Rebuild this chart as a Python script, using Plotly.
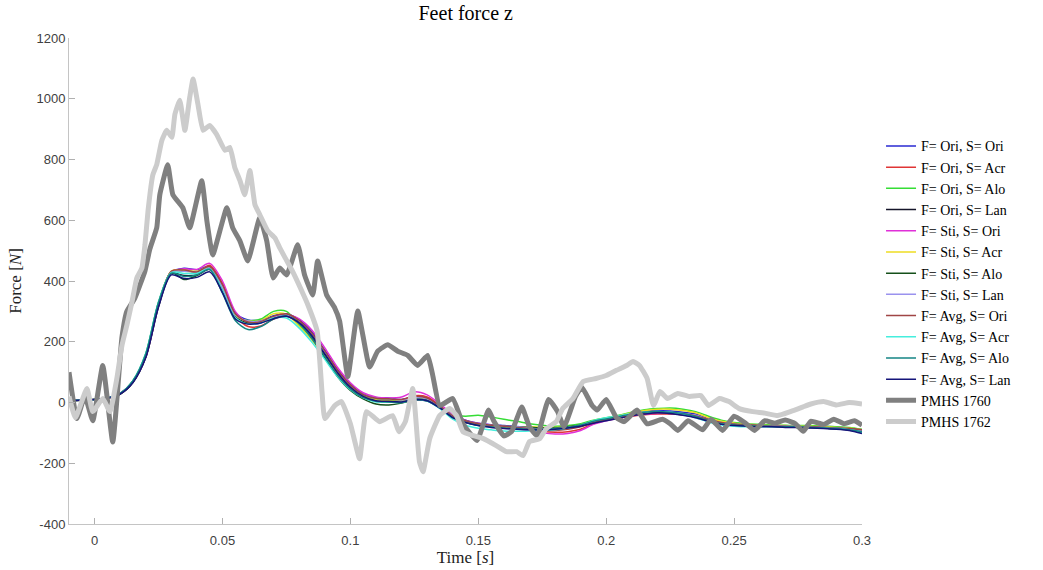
import plotly.graph_objects as go

# ---------------- data ----------------
T_SIM = [-0.010, -0.005, 0.000, 0.005, 0.010, 0.015, 0.020, 0.025, 0.030, 0.035,
         0.040, 0.045, 0.050, 0.055, 0.060, 0.065, 0.070, 0.075, 0.080, 0.085,
         0.090, 0.095, 0.100, 0.105, 0.110, 0.115, 0.120, 0.125, 0.130, 0.135,
         0.140, 0.145, 0.150, 0.155, 0.160, 0.165, 0.170, 0.175, 0.180, 0.185,
         0.190, 0.195, 0.200, 0.205, 0.210, 0.215, 0.220, 0.225, 0.230, 0.235,
         0.240, 0.245, 0.250, 0.255, 0.260, 0.265, 0.270, 0.275, 0.280, 0.285,
         0.290, 0.295, 0.300]

F_ORI_S_ORI = [5, 8, 10, 15, 30, 70, 155, 325, 428, 442, 437, 448, 385, 295, 272, 272, 286, 292, 272, 232, 172, 108, 60, 28, 16, 15, 10, 18, 14, -12, -42, -58, -68, -73, -76, -79, -82, -86, -84, -80, -74, -62, -55, -50, -38, -30, -26, -28, -32, -38, -55, -68, -73, -76, -77, -77, -77, -78, -78, -79, -80, -86, -96]
F_ORI_S_ACR = [5, 8, 10, 14, 28, 68, 150, 320, 432, 438, 428, 452, 392, 285, 250, 252, 275, 285, 265, 222, 162, 100, 55, 25, 12, 10, 8, 22, 18, -10, -45, -62, -70, -75, -78, -82, -88, -95, -98, -96, -88, -70, -58, -52, -45, -40, -38, -38, -40, -45, -58, -68, -72, -74, -76, -78, -80, -80, -82, -84, -86, -88, -90]
F_ORI_S_ALO = [5, 8, 10, 15, 30, 72, 160, 330, 430, 432, 430, 445, 375, 285, 270, 275, 300, 300, 255, 210, 155, 95, 50, 22, 10, 8, 5, 15, 12, -15, -40, -45, -42, -48, -55, -62, -70, -75, -78, -76, -70, -58, -50, -42, -32, -24, -20, -18, -22, -30, -45, -58, -66, -70, -72, -74, -75, -76, -76, -78, -80, -82, -88]
F_ORI_S_LAN = [5, 8, 10, 14, 28, 66, 148, 315, 425, 418, 420, 438, 370, 282, 262, 265, 280, 288, 262, 218, 158, 96, 50, 20, 5, 2, 0, 8, 5, -18, -50, -65, -75, -80, -84, -86, -88, -90, -88, -84, -78, -66, -58, -50, -42, -36, -34, -36, -40, -48, -60, -70, -74, -76, -78, -79, -80, -82, -82, -84, -86, -90, -100]
F_STI_S_ORI = [5, 8, 10, 15, 30, 70, 152, 322, 430, 440, 438, 458, 400, 300, 262, 262, 282, 290, 275, 238, 180, 115, 65, 32, 18, 15, 18, 35, 25, -5, -38, -58, -68, -74, -78, -84, -92, -100, -104, -102, -92, -72, -60, -52, -44, -38, -36, -36, -40, -46, -58, -68, -72, -74, -76, -78, -80, -80, -82, -84, -86, -88, -92]
F_STI_S_ACR = [5, 8, 10, 15, 30, 70, 158, 328, 432, 435, 432, 446, 378, 288, 268, 270, 292, 290, 250, 205, 150, 92, 48, 20, 8, 6, 4, 14, 10, -16, -45, -62, -74, -78, -80, -80, -80, -82, -82, -80, -74, -62, -52, -44, -34, -26, -22, -22, -26, -34, -50, -62, -68, -72, -74, -76, -76, -78, -78, -80, -82, -84, -90]
F_STI_S_ALO = [5, 8, 10, 14, 28, 68, 155, 325, 428, 405, 418, 440, 368, 278, 262, 268, 282, 288, 262, 212, 148, 85, 40, 12, -5, -8, -2, 10, 8, -15, -45, -60, -70, -75, -78, -80, -82, -84, -84, -80, -74, -64, -56, -48, -40, -34, -32, -34, -38, -46, -58, -68, -72, -74, -76, -78, -78, -80, -80, -82, -84, -86, -92]
F_STI_S_LAN = [5, 8, 10, 15, 30, 70, 156, 326, 430, 432, 430, 446, 380, 290, 268, 268, 282, 288, 262, 222, 165, 102, 56, 26, 14, 12, 8, 16, 12, -14, -44, -60, -70, -75, -78, -80, -84, -88, -86, -82, -76, -64, -56, -50, -40, -32, -30, -32, -36, -42, -56, -66, -72, -74, -76, -77, -78, -79, -80, -82, -84, -86, -94]
F_AVG_S_ORI = [5, 8, 10, 15, 30, 70, 155, 325, 432, 436, 430, 448, 388, 292, 265, 266, 284, 292, 270, 228, 170, 106, 58, 26, 14, 12, 10, 20, 15, -12, -44, -60, -70, -75, -78, -82, -86, -90, -92, -88, -80, -66, -57, -50, -42, -36, -34, -34, -38, -44, -56, -66, -72, -74, -76, -78, -79, -80, -80, -82, -84, -86, -90]
F_AVG_S_ACR = [5, 8, 10, 15, 30, 72, 162, 332, 428, 425, 425, 440, 368, 280, 258, 262, 278, 278, 245, 198, 142, 85, 42, 15, 2, 2, 0, 10, 5, -20, -55, -75, -85, -90, -94, -95, -94, -92, -90, -84, -74, -60, -50, -44, -36, -32, -30, -32, -38, -50, -64, -74, -78, -80, -80, -80, -80, -82, -82, -84, -86, -90, -98]
F_AVG_S_ALO = [5, 8, 10, 15, 30, 72, 160, 330, 426, 415, 420, 438, 360, 270, 240, 250, 275, 285, 260, 210, 150, 90, 45, 16, 4, 2, 0, 10, 6, -18, -50, -66, -76, -80, -84, -86, -88, -88, -86, -82, -74, -62, -54, -46, -38, -32, -30, -32, -36, -46, -60, -70, -74, -76, -78, -79, -80, -80, -82, -84, -86, -90, -96]
F_AVG_S_LAN = [5, 8, 10, 14, 28, 66, 148, 315, 420, 408, 412, 430, 362, 275, 258, 262, 276, 284, 262, 220, 160, 98, 50, 20, 6, 4, 2, 10, 6, -18, -50, -66, -76, -82, -86, -88, -90, -90, -88, -84, -78, -68, -60, -52, -44, -38, -34, -36, -42, -50, -62, -72, -76, -78, -80, -80, -82, -82, -84, -86, -88, -92, -102]

SIM_NAMES = ["F= Ori, S= Ori", "F= Ori, S= Acr", "F= Ori, S= Alo", "F= Ori, S= Lan",
             "F= Sti, S= Ori", "F= Sti, S= Acr", "F= Sti, S= Alo", "F= Sti, S= Lan",
             "F= Avg, S= Ori", "F= Avg, S= Acr", "F= Avg, S= Alo", "F= Avg, S= Lan"]
SIM_VALUES = [F_ORI_S_ORI, F_ORI_S_ACR, F_ORI_S_ALO, F_ORI_S_LAN,
              F_STI_S_ORI, F_STI_S_ACR, F_STI_S_ALO, F_STI_S_LAN,
              F_AVG_S_ORI, F_AVG_S_ACR, F_AVG_S_ALO, F_AVG_S_LAN]
SIM_COLORS = ["#2a2ad2", "#e03535", "#35dd35", "#15152a", "#e030d8", "#eedd22",
              "#15501a", "#9a92ee", "#a04545", "#45eedd", "#158585", "#15157a"]

T_1760 = [-0.0100, -0.0069, -0.0038, -0.0007, 0.0032, 0.0071, 0.0107, 0.0126, 0.0157, 0.0197,
          0.0216, 0.0243, 0.0255, 0.0286, 0.0306, 0.0345, 0.0372, 0.0419, 0.0439, 0.0462,
          0.0517, 0.0540, 0.0568, 0.0599, 0.0646, 0.0673, 0.0698, 0.0724, 0.0751, 0.0794,
          0.0821, 0.0853, 0.0872, 0.0907, 0.0939, 0.0958, 0.0990, 0.1029, 0.1075, 0.1107,
          0.1146, 0.1185, 0.1224, 0.1263, 0.1302, 0.1322, 0.1349, 0.1400, 0.1440, 0.1495,
          0.1540, 0.1560, 0.1600, 0.1630, 0.1670, 0.1700, 0.1730, 0.1775, 0.1810, 0.1835,
          0.1880, 0.1905, 0.1945, 0.1965, 0.2000, 0.2040, 0.2070, 0.2120, 0.2160, 0.2220,
          0.2250, 0.2280, 0.2320, 0.2377, 0.2410, 0.2455, 0.2500, 0.2540, 0.2580, 0.2620,
          0.2660, 0.2700, 0.2740, 0.2770, 0.2800, 0.2850, 0.2890, 0.2930, 0.2970, 0.3000]
F_1760 = [100, -53, 20, -60, 122, -130, 215, 300, 343, 433,
          505, 575, 684, 783, 684, 641, 575, 730, 598, 486,
          641, 575, 532, 466, 608, 532, 410, 443, 420, 519,
          420, 354, 466, 354, 311, 268, 85, 301, 117, 169,
          190, 169, 155, 122, 155, 89, -10, 13, -70, -125,
          -25, -60, -110, -96, -15, -80, -110, 10, -30, -80,
          20, 50, -10, -25, 10, -50, -63, -25, -70, -55,
          -70, -92, -60, -90, -55, -92, -45, -65, -92, -60,
          -68, -58, -70, -95, -62, -72, -55, -70, -60, -75]

T_1762 = [-0.0100, -0.0075, -0.0030, -0.0007, 0.0032, 0.0060, 0.0087, 0.0107, 0.0126, 0.0146,
          0.0165, 0.0185, 0.0197, 0.0209, 0.0228, 0.0243, 0.0263, 0.0282, 0.0302, 0.0314,
          0.0333, 0.0353, 0.0372, 0.0385, 0.0404, 0.0424, 0.0450, 0.0477, 0.0510, 0.0529,
          0.0548, 0.0568, 0.0587, 0.0607, 0.0627, 0.0646, 0.0677, 0.0705, 0.0724, 0.0745,
          0.0775, 0.0810, 0.0834, 0.0870, 0.0889, 0.0900, 0.0939, 0.0965, 0.1000, 0.1036,
          0.1063, 0.1114, 0.1165, 0.1190, 0.1215, 0.1244, 0.1270, 0.1284, 0.1310, 0.1349,
          0.1388, 0.1415, 0.1440, 0.1480, 0.1520, 0.1570, 0.1610, 0.1650, 0.1675, 0.1700,
          0.1740, 0.1766, 0.1805, 0.1830, 0.1870, 0.1910, 0.1960, 0.2000, 0.2040, 0.2080,
          0.2105, 0.2130, 0.2160, 0.2185, 0.2210, 0.2240, 0.2280, 0.2325, 0.2370, 0.2400,
          0.2443, 0.2480, 0.2520, 0.2573, 0.2620, 0.2670, 0.2720, 0.2768, 0.2800, 0.2850,
          0.2900, 0.2950, 0.3000]
F_1762 = [20, -50, 46, -30, 13, -30, 79, 188, 254, 330,
          410, 443, 519, 631, 750, 783, 863, 896, 873, 949,
          995, 896, 1005, 1065, 982, 896, 912, 883, 830, 840,
          774, 731, 684, 764, 651, 618, 565, 542, 509, 476,
          430, 367, 321, 235, 36, -53, -10, 3, -70, -185,
          -30, -63, -43, -96, -63, 46, -195, -228, -119, -43,
          -20, -43, -96, -109, -119, -142, -162, -162, -175, -129,
          -119, -86, -63, -20, 13, 69, 79, 89, 106, 122,
          135, 122, 79, -10, 36, 13, 30, 20, 23, -10,
          13, 3, -20, -30, -35, -43, -30, -15, -5, 3,
          -8, 0, -5]

X_TICKS = [0, 0.05, 0.1, 0.15, 0.2, 0.25, 0.3]
X_TICK_TEXT = ["0", "0.05", "0.1", "0.15", "0.2", "0.25", "0.3"]
Y_TICKS = [-400, -200, 0, 200, 400, 600, 800, 1000, 1200]
Y_TICK_TEXT = ["-400", "-200", "0", "200", "400", "600", "800", "1000", "1200"]

# ---------------- figure ----------------
SERIF_T = "Liberation Serif, DejaVu Serif, serif"
SANS = "Liberation Sans, Arial, sans-serif"

fig = go.Figure()
for name, vals, col in zip(SIM_NAMES, SIM_VALUES, SIM_COLORS):
    fig.add_trace(go.Scatter(x=T_SIM, y=vals, mode="lines", name=name,
                             line=dict(color=col, width=1.5, shape="spline", smoothing=0.8)))
fig.add_trace(go.Scatter(x=T_1760, y=F_1760, mode="lines", name="PMHS 1760",
                         line=dict(color="#808080", width=5, shape="spline", smoothing=0.4)))
fig.add_trace(go.Scatter(x=T_1762, y=F_1762, mode="lines", name="PMHS 1762",
                         line=dict(color="#cccccc", width=5, shape="spline", smoothing=0.4)))

axis_common = dict(showgrid=False, zeroline=False, showline=True, linecolor="#c4c4c4",
                   linewidth=1, ticks="inside", ticklen=6, tickcolor="#b0b0b0",
                   tickfont=dict(family=SANS, size=13, color="#404040"), mirror=False,
                   automargin=False)

fig.update_layout(
    width=1043, height=570,
    margin=dict(l=69, r=181, t=38, b=46),
    paper_bgcolor="white", plot_bgcolor="white",
    title=dict(text="Feet force z", x=0.4465, xanchor="center", y=0.977, yanchor="middle",
               font=dict(family=SERIF_T, size=20, color="black")),
    xaxis=dict(range=[-0.01, 0.3], tickvals=X_TICKS, ticktext=X_TICK_TEXT,
               ticklabelstandoff=4,
               title=dict(text="Time [<i>s</i>]", font=dict(family=SERIF_T, size=17, color="#222"),
                          standoff=1),
               **axis_common),
    yaxis=dict(range=[-400, 1200], tickvals=Y_TICKS, ticktext=Y_TICK_TEXT,
               title=dict(text="Force [<i>N</i>]", font=dict(family=SERIF_T, size=17, color="#222"),
                          standoff=10),
               **axis_common),
    legend=dict(x=1.024, xanchor="left", y=0.81, yanchor="top",
                font=dict(family=SERIF_T, size=14, color="black"),
                bgcolor="rgba(255,255,255,0)", borderwidth=0, itemwidth=30),
    showlegend=True,
)

fig.write_html("out.html")
